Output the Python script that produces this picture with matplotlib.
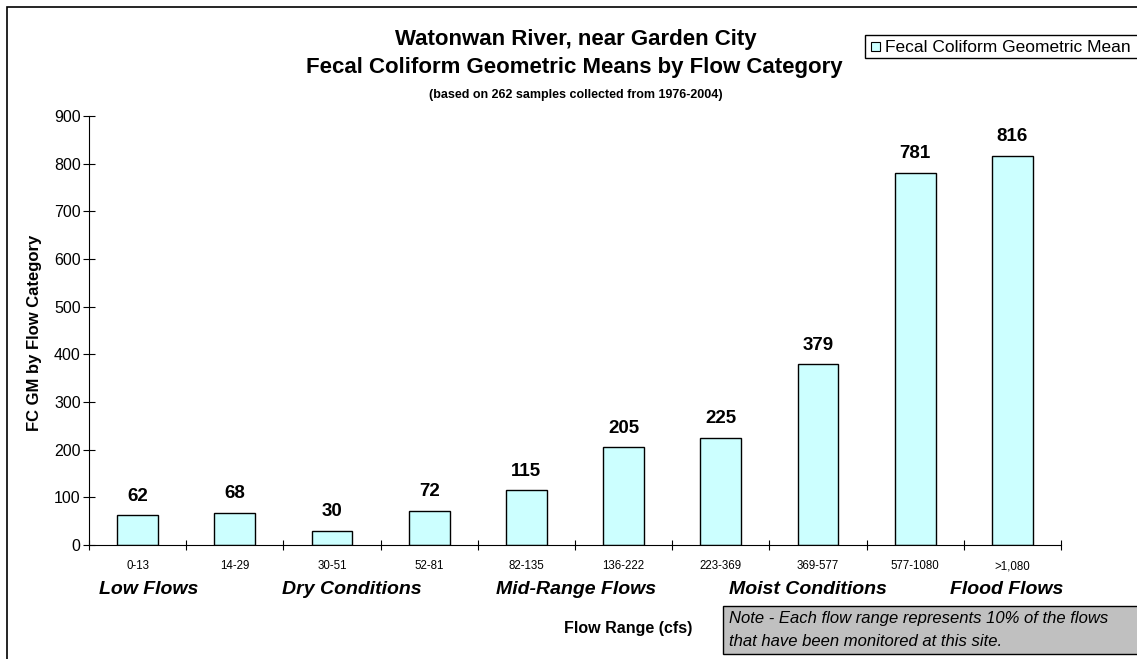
import matplotlib.pyplot as plt
import matplotlib.patches as mpatches
import numpy as np

# data
flow_ranges = ['0-13', '14-29', '30-51', '52-81', '82-135', '136-222',
               '223-369', '369-577', '577-1080', '>1,080']
fc_gm = [62, 68, 30, 72, 115, 205, 225, 379, 781, 816]
flow_groups = ['Low Flows', 'Dry Conditions', 'Mid-Range Flows',
               'Moist Conditions', 'Flood Flows']

plt.rcParams['font.family'] = ['Liberation Sans', 'DejaVu Sans']

W, H = 1137, 659
fig = plt.figure(figsize=(W / 100, H / 100), dpi=100)

def fx(px):
    return px / W

def fy(py):
    return 1 - py / H

# outer chart frame (cut off on right and bottom)
fig.patches.append(mpatches.Rectangle((fx(7), -0.2), 1.2, fy(7) + 0.2,
                                      transform=fig.transFigure, fill=False,
                                      edgecolor='black', linewidth=1.2))

ax = fig.add_axes([fx(89), fy(545), fx(1061) - fx(89), fy(116) - fy(545)])
x = np.arange(len(flow_ranges))
ax.bar(x, fc_gm, width=0.42, color='#CCFFFF', edgecolor='black',
       linewidth=1.0, label='Fecal Coliform Geometric Mean')
for xi, v in zip(x, fc_gm):
    ax.text(xi, v + 40, str(v), ha='center', va='center',
            fontsize=13.5, fontweight='bold')

ax.set_xlim(-0.5, len(flow_ranges) - 0.5)
ax.set_ylim(0, 900)
ax.set_yticks(range(0, 901, 100))
ax.tick_params(axis='y', direction='inout', length=8, labelsize=11.5, pad=2)
ax.set_xticks(np.arange(-0.5, len(flow_ranges), 1.0))
ax.set_xticklabels([])
ax.set_xticks(x, minor=True)
ax.set_xticklabels(flow_ranges, minor=True)
ax.tick_params(axis='x', which='major', direction='inout', length=7)
ax.tick_params(axis='x', which='minor', length=0, labelsize=8.3, pad=11)
for s in ['top', 'right']:
    ax.spines[s].set_visible(False)
ax.patch.set_alpha(0)

fig.text(fx(35), fy(333), 'FC GM by Flow Category', rotation=90,
         ha='center', va='center', fontsize=12, fontweight='bold')

# titles
fig.text(fx(576), fy(40), 'Watonwan River, near Garden City',
         ha='center', va='center', fontsize=16, fontweight='bold')
fig.text(fx(574), fy(68), 'Fecal Coliform Geometric Means by Flow Category',
         ha='center', va='center', fontsize=16, fontweight='bold')
fig.text(fx(576), fy(95), '(based on 262 samples collected from 1976-2004)',
         ha='center', va='center', fontsize=9, fontweight='bold')

# flow group labels
group_x = [149, 352, 576, 808, 1007]
for g, gx in zip(flow_groups, group_x):
    fig.text(fx(gx), fy(590), g, ha='center', va='center', fontsize=14,
             fontweight='bold', style='italic')

fig.text(fx(628), fy(628), 'Flow Range (cfs)', ha='center', va='center',
         fontsize=11.5, fontweight='bold')

# note box
fig.patches.append(mpatches.Rectangle((fx(723), fy(654)), fx(1180) - fx(723),
                                      fy(606) - fy(654),
                                      transform=fig.transFigure,
                                      facecolor='#C0C0C0', edgecolor='black',
                                      linewidth=1.0))
fig.text(fx(729), fy(618), 'Note - Each flow range represents 10% of the flows',
         ha='left', va='center', fontsize=12, style='italic')
fig.text(fx(729), fy(642), 'that have been monitored at this site.',
         ha='left', va='center', fontsize=12, style='italic')

# legend box
leg_txt = fig.text(fx(1131), fy(47), 'Fecal Coliform Geometric Mean',
                   ha='right', va='center', fontsize=12.5)
r = fig.canvas.get_renderer()
tx0 = leg_txt.get_window_extent(r).x0
fig.patches.append(mpatches.Rectangle((fx(tx0 - 20), fy(58)), 1.0,
                                      fy(35) - fy(58),
                                      transform=fig.transFigure,
                                      facecolor='white', edgecolor='black',
                                      linewidth=1.0, zorder=0))
fig.patches.append(mpatches.Rectangle((fx(tx0 - 14), fy(51)), fx(9),
                                      fy(0) - fy(9),
                                      transform=fig.transFigure,
                                      facecolor='#CCFFFF', edgecolor='black',
                                      linewidth=0.8))

fig.savefig('out.png', dpi=100)
